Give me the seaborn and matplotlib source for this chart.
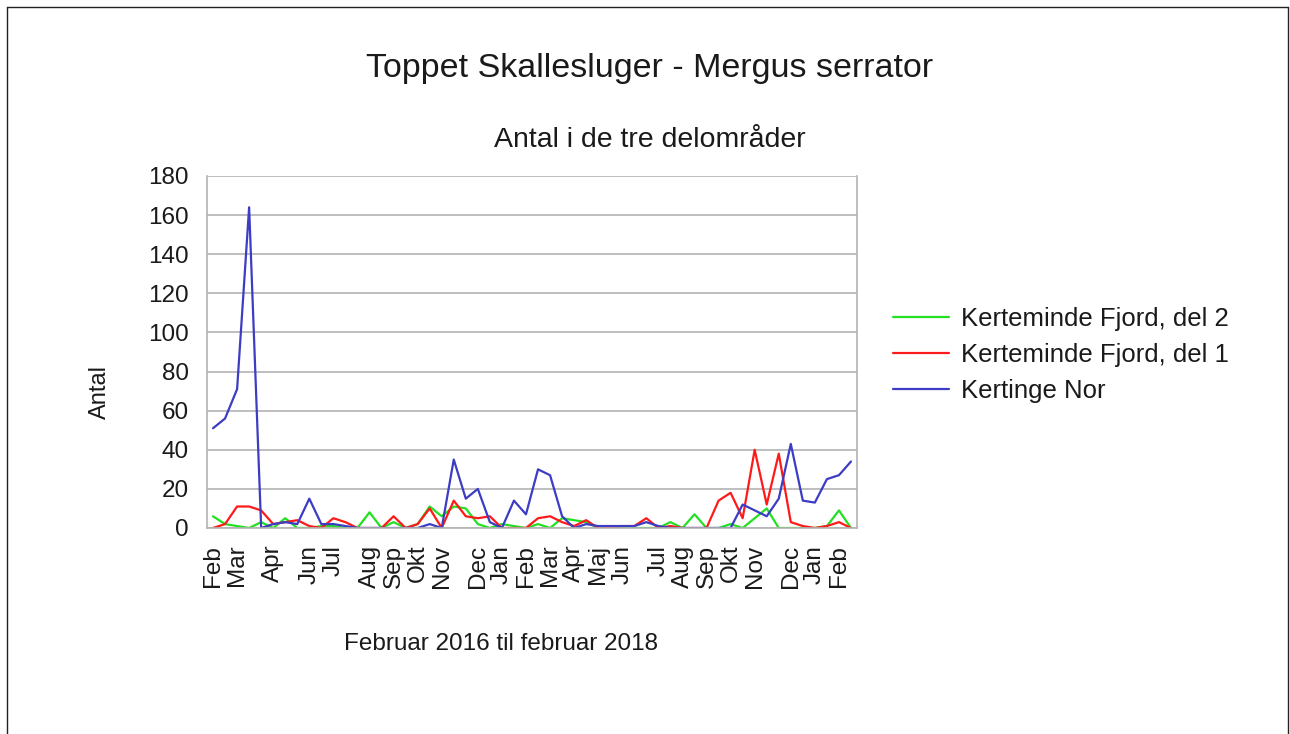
import numpy as np
import pandas as pd
import matplotlib
matplotlib.use('Agg')
import matplotlib.pyplot as plt
from matplotlib.ticker import MultipleLocator
from matplotlib.lines import Line2D
import seaborn as sns

# one entry per count, labels only where the original shows one
labels = ['Feb', '', 'Mar', '', '', 'Apr', '', '', 'Jun', '',
          'Jul', '', '', 'Aug', '', 'Sep', '', 'Okt', '', 'Nov',
          '', '', 'Dec', '', 'Jan', '', 'Feb', '', 'Mar', '',
          'Apr', '', 'Maj', '', 'Jun', '', '', 'Jul', '', 'Aug',
          '', 'Sep', '', 'Okt', '', 'Nov', '', '', 'Dec', '',
          'Jan', '', 'Feb', '']

kertinge_nor = [51, 56, 71, 164, 0, 2, 3, 2, 15, 2,
                2, 1, 0, 0, 0, 0, 0, 0, 2, 0,
                35, 15, 20, 3, 0, 14, 7, 30, 27, 6,
                0, 2, 1, 1, 1, 1, 3, 1, 0, 0,
                0, 0, 0, 0, 12, 9, 6, 15, 43, 14,
                13, 25, 27, 34]

fjord_del1 = [0, 2, 11, 11, 9, 2, 3, 4, 1, 0,
              5, 3, 0, 0, 0, 6, 0, 2, 10, 0,
              14, 6, 5, 6, 0, 0, 0, 5, 6, 3,
              1, 4, 0, 0, 1, 1, 5, 0, 1, 0,
              0, 0, 14, 18, 5, 40, 12, 38, 3, 1,
              0, 1, 3, 0]

fjord_del2 = [6, 2, 1, 0, 3, 0, 5, 0, 0, 1,
              1, 0, 0, 8, 0, 3, 0, 2, 11, 6,
              11, 10, 2, 0, 2, 1, 0, 2, 0, 5,
              4, 3, 0, 1, 0, 0, 0, 0, 3, 0,
              7, 0, 0, 2, 0, 5, 10, 0, 0, 0,
              0, 1, 9, 0]

series_names = ['Kerteminde Fjord, del 2', 'Kerteminde Fjord, del 1', 'Kertinge Nor']
colors = ['#22e022', '#ff1a1a', '#3c3cc4']

n = len(labels)
pos = np.arange(n)
df = pd.DataFrame({
    'pos': np.concatenate([pos, pos, pos]),
    'Antal': fjord_del2 + fjord_del1 + kertinge_nor,
    'serie': np.repeat(series_names, n),
})

sns.set_style('white')
plt.rcParams['font.family'] = ['Liberation Sans', 'DejaVu Sans']
txt = '#1a1a1a'
gridc = '#b3b3b3'

fig = plt.figure(figsize=(12.9, 7.34), dpi=100)
ax = fig.add_axes([207 / 1290, 1 - 528 / 734, 650 / 1290, 352 / 734])

sns.lineplot(data=df, x='pos', y='Antal', hue='serie', hue_order=series_names,
             palette=colors, linewidth=1.6, ax=ax)

ax.set_xlim(-0.5, n - 0.5)
ax.set_ylim(0, 180)
ax.set_yticks(range(0, 181, 20))
ax.yaxis.grid(True, color=gridc, linewidth=1.2)
ax.set_axisbelow(True)
ax.tick_params(axis='y', length=8, width=1.1, color=gridc, labelsize=17.5,
               labelcolor=txt, pad=5)

ax.set_xticks(pos)
ax.set_xticklabels(labels, rotation=90)
ax.xaxis.set_minor_locator(MultipleLocator(1, offset=0.5))
ax.tick_params(axis='x', which='major', length=0, labelsize=17.5,
               labelcolor=txt, pad=12)
ax.tick_params(axis='x', which='minor', length=4, width=1.1, color=gridc)

for side in ['left', 'bottom', 'right']:
    ax.spines[side].set_color(gridc)
    ax.spines[side].set_linewidth(1.2)
ax.spines['top'].set_visible(False)

ax.set_xlabel('')
ax.set_ylabel('')

handles, lbls = ax.get_legend_handles_labels()
ax.legend(handles, lbls, loc='center left', bbox_to_anchor=(1.055, 0.491),
          frameon=False, fontsize=18.5, handlelength=2.2, handletextpad=0.45,
          labelspacing=0.47, borderpad=0, borderaxespad=0, labelcolor=txt)

fig.text(650 / 1290, 1 - 69 / 734, 'Toppet Skallesluger - Mergus serrator',
         ha='center', va='center', fontsize=24.5, color=txt)
fig.text(650 / 1290, 1 - 140 / 734, 'Antal i de tre delområder',
         ha='center', va='center', fontsize=20.5, color=txt)
fig.text(100 / 1290, 1 - 392 / 734, 'Antal', rotation=90,
         ha='center', va='center', fontsize=17, color=txt)
fig.text(501 / 1290, 1 - 644 / 734, 'Februar 2016 til februar 2018',
         ha='center', va='center', fontsize=17.5, color=txt)

# page frame
fig.add_artist(Line2D([7 / 1290, 7 / 1290], [0, 1 - 7 / 734], color='#222222', linewidth=1))
fig.add_artist(Line2D([7 / 1290, 1288 / 1290], [1 - 7 / 734, 1 - 7 / 734], color='#222222', linewidth=1))
fig.add_artist(Line2D([1288 / 1290, 1288 / 1290], [0, 1 - 7 / 734], color='#222222', linewidth=1))

fig.savefig('out.png', dpi=100)
